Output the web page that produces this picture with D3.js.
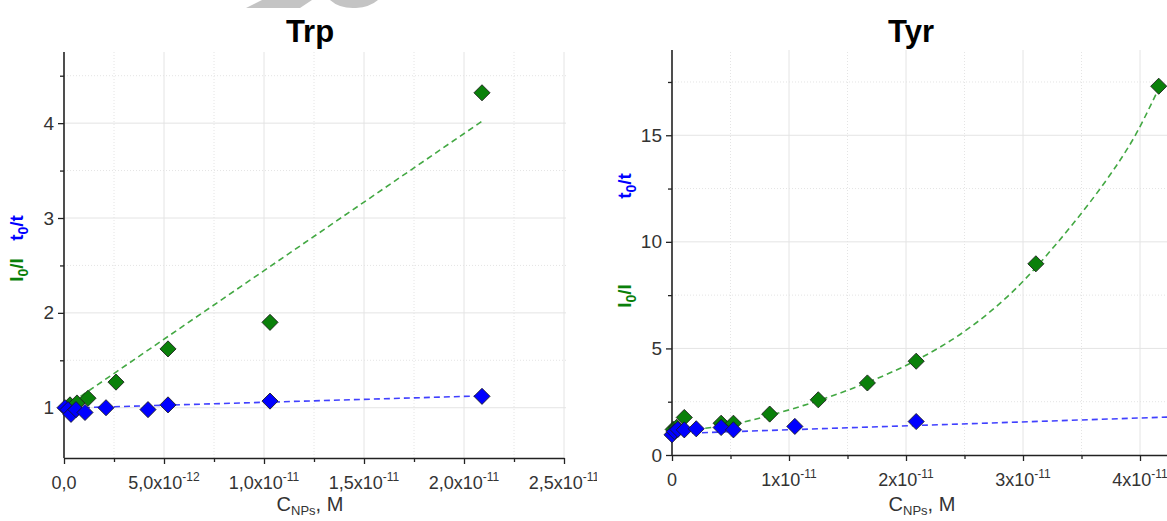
<!DOCTYPE html>
<html>
<head>
<meta charset="utf-8">
<script src="https://cdn.jsdelivr.net/npm/d3@7"></script>
<style>
  body { margin: 0; background: #fff; }
  text { font-family: "Liberation Sans", Arial, sans-serif; }
</style>
</head>
<body>
<svg id="chart" width="1167" height="521"></svg>
<script>
// ---- Trp panel data ----
const trpIx = [0.3e-12, 0.65e-12, 1.2e-12, 2.6e-12, 5.2e-12, 10.3e-12, 20.9e-12];
const trpIy = [1.03, 1.05, 1.10, 1.27, 1.62, 1.90, 4.32];
const trpTx = [0.05e-12, 0.2e-12, 0.35e-12, 0.6e-12, 1.05e-12, 2.1e-12, 4.2e-12, 5.2e-12, 10.3e-12, 20.9e-12];
const trpTy = [1.0, 0.98, 0.93, 0.98, 0.95, 1.0, 0.98, 1.03, 1.07, 1.12];
const trpIfitX = [0, 20.9e-12];
const trpIfitY = [1.0, 4.02];
const trpTfitX = [0, 20.9e-12];
const trpTfitY = [0.995, 1.125];

const trpXTicks = [0, 5e-12, 1e-11, 1.5e-11, 2e-11, 2.5e-11];
const trpXTickText = ["0,0", "5,0x10", "1,0x10", "1,5x10", "2,0x10", "2,5x10"];
const trpXTickExp = ["", "-12", "-11", "-11", "-11", "-11"];
const trpYTicks = [1, 2, 3, 4];
const trpYMinor = [1.5, 2.5, 3.5, 4.5];
const trpXMinor = [2.5e-12, 7.5e-12, 12.5e-12, 17.5e-12, 22.5e-12];

// ---- Tyr panel data ----
const tyrIx = [0.01e-11, 0.04e-11, 0.105e-11, 0.42e-11, 0.525e-11, 0.835e-11, 1.25e-11, 1.67e-11, 2.087e-11, 3.11e-11, 4.16e-11];
const tyrIy = [1.2, 1.3, 1.76, 1.49, 1.49, 1.92, 2.59, 3.38, 4.40, 8.97, 17.3];
const tyrTx = [0.0, 0.02e-11, 0.05e-11, 0.105e-11, 0.207e-11, 0.42e-11, 0.525e-11, 1.05e-11, 2.087e-11];
const tyrTy = [0.95, 1.1, 1.2, 1.18, 1.23, 1.29, 1.18, 1.34, 1.57];
const tyrIfitX = [0.2e-11, 0.5e-11, 0.83e-11, 1.25e-11, 1.67e-11, 2.09e-11, 2.5e-11, 2.9e-11, 3.3e-11, 3.7e-11, 3.95e-11, 4.16e-11];
const tyrIfitY = [1.2, 1.42, 1.85, 2.55, 3.4, 4.45, 5.8, 7.6, 10.0, 12.8, 14.9, 17.2];
const tyrTfitX = [0, 4.4e-11];
const tyrTfitY = [1.0, 1.81];

const tyrXTicks = [0, 1e-11, 2e-11, 3e-11, 4e-11];
const tyrXTickText = ["0", "1x10", "2x10", "3x10", "4x10"];
const tyrXTickExp = ["", "-11", "-11", "-11", "-11"];
const tyrYTicks = [0, 5, 10, 15];
const tyrYMinor = [2.5, 7.5, 12.5, 17.5];
const tyrXMinor = [0.5e-11, 1.5e-11, 2.5e-11, 3.5e-11, 4.5e-11];

const GREEN = "#0a800a", BLUE = "#0000ff";
const GREEN_LINE = "#43a843", BLUE_LINE = "#4040ff";

const svg = d3.select("#chart");
svg.append("rect").attr("width", 1167).attr("height", 521).attr("fill", "#fff");

// faint watermark pieces at the top edge
svg.append("path").attr("d", "M246,8 L262,0 L312,0 L300,8 Z").attr("fill", "#c4c4c4");
svg.append("path").attr("d", "M330,0 Q340,9 356,8 Q370,7 378,0 Z").attr("fill", "#c4c4c4");

svg.append("defs").append("clipPath").attr("id", "leftClip")
  .append("rect").attr("x", 0).attr("y", 0).attr("width", 597).attr("height", 521);

function zip(xs, ys) { return xs.map((x, i) => [x, ys[i]]); }

function drawPanel(cfg) {
  const g = svg.append("g");
  if (cfg.clip) g.attr("clip-path", "url(#" + cfg.clip + ")");
  const x = d3.scaleLinear().domain(cfg.xDomain).range(cfg.xRange);
  const y = d3.scaleLinear().domain(cfg.yDomain).range(cfg.yRange);
  const x0 = cfg.xRange[0], yb = cfg.yRange[0], yt = cfg.yRange[1];

  // grid
  const grid = g.append("g");
  grid.selectAll(".vmaj").data(cfg.xTicks.slice(1)).join("line")
    .attr("x1", d => x(d)).attr("x2", d => x(d)).attr("y1", yb).attr("y2", yt)
    .attr("stroke", "#e4e4e4").attr("stroke-width", 1);
  grid.selectAll(".vmin").data(cfg.xMinor).join("line")
    .attr("x1", d => x(d)).attr("x2", d => x(d)).attr("y1", yb).attr("y2", yt)
    .attr("stroke", "#e4e4e4").attr("stroke-width", 1).attr("stroke-dasharray", "1,2");
  grid.selectAll(".hmaj").data(cfg.yTicks.filter(d => y(d) < yb - 1)).join("line")
    .attr("x1", x0).attr("x2", cfg.gridRight).attr("y1", d => y(d)).attr("y2", d => y(d))
    .attr("stroke", "#e4e4e4").attr("stroke-width", 1);
  grid.selectAll(".hmin").data(cfg.yMinor).join("line")
    .attr("x1", x0).attr("x2", cfg.gridRight).attr("y1", d => y(d)).attr("y2", d => y(d))
    .attr("stroke", "#e4e4e4").attr("stroke-width", 1).attr("stroke-dasharray", "1,2");

  // axes
  g.append("g").attr("transform", `translate(0,${yb})`)
    .call(d3.axisBottom(x).tickValues(cfg.xTicks).tickFormat("").tickSize(6).tickSizeOuter(0));
  g.append("g").attr("transform", `translate(0,${yb})`)
    .call(d3.axisBottom(x).tickValues(cfg.xMinor).tickFormat("").tickSize(4).tickSizeOuter(0))
    .select(".domain").remove();
  const ay = g.append("g").attr("transform", `translate(${x0},0)`)
    .call(d3.axisLeft(y).tickValues(cfg.yTicks).tickFormat(d3.format("d")).tickSize(6).tickSizeOuter(0).tickPadding(4));
  g.append("g").attr("transform", `translate(${x0},0)`)
    .call(d3.axisLeft(y).tickValues(cfg.yMinor).tickFormat("").tickSize(4).tickSizeOuter(0))
    .select(".domain").remove();
  g.selectAll(".domain").attr("stroke", "#222").attr("stroke-width", 1.6);
  g.selectAll(".tick line").attr("stroke", "#222").attr("stroke-width", 1.3);
  ay.selectAll(".tick text").attr("font-size", 19).attr("fill", "#333");
  ay.select(".domain").attr("d", `M0,${yb}V${yt}`);

  // x tick labels with superscripts
  const lab = g.append("g");
  cfg.xTicks.forEach((v, i) => {
    const t = lab.append("text").attr("x", x(v)).attr("y", yb + 31)
      .attr("text-anchor", "middle").attr("font-size", 18).attr("fill", "#333");
    t.append("tspan").text(cfg.xTickText[i]);
    if (cfg.xTickExp[i]) t.append("tspan").attr("dy", -8).attr("font-size", 12).text(cfg.xTickExp[i]);
  });

  // fit lines
  g.append("path").datum(zip(cfg.iFitX, cfg.iFitY))
    .attr("d", d3.line().x(d => x(d[0])).y(d => y(d[1])).curve(cfg.curve || d3.curveLinear))
    .attr("fill", "none").attr("stroke", GREEN_LINE).attr("stroke-width", 1.6).attr("stroke-dasharray", "6,4");
  g.append("path").datum(zip(cfg.tFitX, cfg.tFitY))
    .attr("d", d3.line().x(d => x(d[0])).y(d => y(d[1])))
    .attr("fill", "none").attr("stroke", BLUE_LINE).attr("stroke-width", 1.6).attr("stroke-dasharray", "6,4");

  // diamonds
  const sym = d3.symbol().type(d3.symbolSquare).size(130);
  g.append("g").selectAll("path").data(zip(cfg.iX, cfg.iY)).join("path")
    .attr("d", sym).attr("transform", d => `translate(${x(d[0])},${y(d[1])}) rotate(45)`)
    .attr("fill", GREEN).attr("stroke", "#1a1a1a").attr("stroke-width", 0.8);
  g.append("g").selectAll("path").data(zip(cfg.tX, cfg.tY)).join("path")
    .attr("d", sym).attr("transform", d => `translate(${x(d[0])},${y(d[1])}) rotate(45)`)
    .attr("fill", BLUE).attr("stroke", "#1a1a1a").attr("stroke-width", 0.8);

  // title
  g.append("text").attr("x", cfg.titleX).attr("y", 42).attr("text-anchor", "middle")
    .attr("font-size", 31).attr("font-weight", "bold").attr("fill", "#000").text(cfg.title);

  // x axis title
  const xt = g.append("text").attr("x", cfg.xTitleX).attr("y", 511).attr("text-anchor", "middle")
    .attr("font-size", 20).attr("fill", "#333");
  xt.append("tspan").text("C");
  xt.append("tspan").attr("dy", 4).attr("font-size", 13).text("NPs");
  xt.append("tspan").attr("dy", -4).text(", M");

  return { x, y, g };
}

function yLabel(g, cx, cy, main, sub, rest, color) {
  const t = g.append("text").attr("transform", `translate(${cx},${cy}) rotate(-90)`)
    .attr("text-anchor", "middle").attr("font-size", 19).attr("font-weight", "bold").attr("fill", color);
  t.append("tspan").text(main);
  t.append("tspan").attr("dy", 5).attr("font-size", 14).text(sub);
  t.append("tspan").attr("dy", -5).text(rest);
}

const left = drawPanel({
  clip: "leftClip",
  xDomain: [0, 2.5e-11], xRange: [64, 564],
  yDomain: [0.47, 4.75], yRange: [458, 52],
  gridRight: 566,
  xTicks: trpXTicks, xMinor: trpXMinor, xTickText: trpXTickText, xTickExp: trpXTickExp,
  yTicks: trpYTicks, yMinor: trpYMinor,
  iX: trpIx, iY: trpIy, tX: trpTx, tY: trpTy,
  iFitX: trpIfitX, iFitY: trpIfitY, tFitX: trpTfitX, tFitY: trpTfitY,
  title: "Trp", titleX: 310, xTitleX: 310
});
yLabel(left.g, 23, 270, "I", "0", "/I", GREEN);
yLabel(left.g, 23, 228, "t", "0", "/t", BLUE);

const right = drawPanel({
  xDomain: [0, 4.5e-11], xRange: [672, 672 + 4.5 * 117],
  yDomain: [0, 19], yRange: [455, 50],
  gridRight: 1167,
  xTicks: tyrXTicks, xMinor: tyrXMinor, xTickText: tyrXTickText, xTickExp: tyrXTickExp,
  yTicks: tyrYTicks, yMinor: tyrYMinor,
  iX: tyrIx, iY: tyrIy, tX: tyrTx, tY: tyrTy,
  iFitX: tyrIfitX, iFitY: tyrIfitY, tFitX: tyrTfitX, tFitY: tyrTfitY,
  curve: d3.curveCatmullRom.alpha(0.5),
  title: "Tyr", titleX: 911, xTitleX: 922
});
yLabel(right.g, 631, 186, "t", "0", "/t", BLUE);
yLabel(right.g, 631, 296, "I", "0", "/I", GREEN);
</script>
</body>
</html>
